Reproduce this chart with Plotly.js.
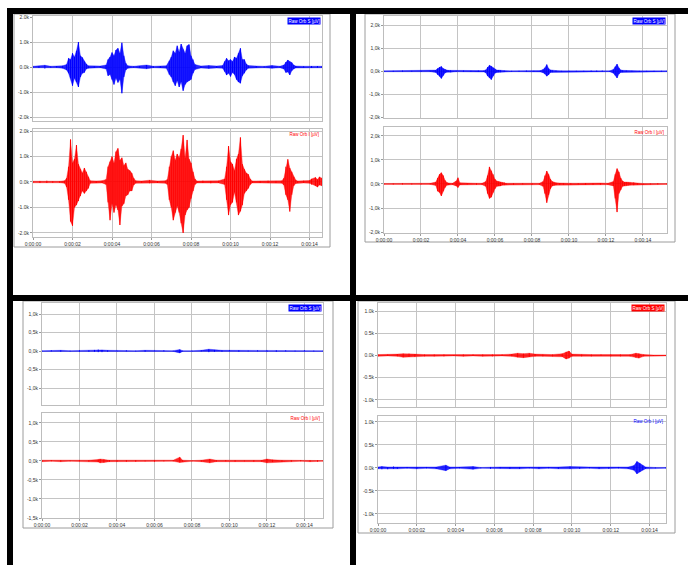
<!DOCTYPE html>
<html><head><meta charset="utf-8">
<script src="https://cdn.plot.ly/plotly-3.0.1.min.js"></script>
<style>html,body{margin:0;padding:0;background:#fff;}#c{width:688px;height:565px;}</style>
</head><body><div id="c"></div>
<script>
// ---- tick labels ----
const xTickVals = [0, 2, 4, 6, 8, 10, 12, 14];
const xTickText = ['0:00:00', '0:00:02', '0:00:04', '0:00:06', '0:00:08', '0:00:10', '0:00:12', '0:00:14'];
const yTickVals2k = [-2, -1, 0, 1, 2];
const yTickTextDot2k = ['-2.0k', '-1.0k', '0.0k', '1.0k', '2.0k'];
const yTickTextCom2k = ['-2,0k', '-1,0k', '0,0k', '1,0k', '2,0k'];
const yTickVals1k = [-1.5, -1, -0.5, 0, 0.5, 1];
const yTickTextCom1k = ['-1,5k', '-1,0k', '-0,5k', '0,0k', '0,5k', '1,0k'];
const yTickTextDot1k = ['-1.5k', '-1.0k', '-0.5k', '0.0k', '0.5k', '1.0k'];
const labelS = 'Raw Orb S [µV]';
const labelI = 'Raw Orb I [µV]';

// ---- series: time (s), upper and lower envelope (k µV) ----
// top-left, Raw Orb S (blue)
const tlS_t  = [0,0.3,0.6,0.9,1.2,1.5,1.7,1.8,1.9,2.0,2.1,2.2,2.3,2.4,2.5,2.6,2.7,2.8,3.1,3.4,3.7,3.8,3.9,4.0,4.1,4.2,4.3,4.4,4.5,4.6,4.7,4.8,5.1,5.4,5.75,6.1,6.45,6.75,6.9,7.0,7.1,7.2,7.3,7.4,7.5,7.6,7.7,7.8,7.9,8.0,8.1,8.2,8.5,8.9,9.3,9.6,9.7,9.8,9.9,10.0,10.1,10.2,10.3,10.4,10.5,10.6,10.7,10.8,10.9,11.3,11.7,12.1,12.5,12.7,12.8,12.9,13.0,13.1,13.2,13.3,13.7,14.1,14.4,14.63];
const tlS_hi = [0.03,0.04,0.07,0.03,0.04,0.05,0.10,0.35,0.30,0.55,0.40,0.65,1.00,0.45,0.38,0.22,0.12,0.05,0.03,0.04,0.08,0.30,0.40,0.58,0.45,0.68,0.75,0.55,0.97,0.45,0.15,0.05,0.03,0.04,0.08,0.03,0.04,0.05,0.25,0.40,0.65,0.55,0.85,0.60,0.92,0.70,0.55,0.85,0.90,0.45,0.30,0.10,0.04,0.06,0.04,0.06,0.22,0.35,0.25,0.30,0.22,0.40,0.35,0.55,0.75,0.30,0.30,0.12,0.06,0.04,0.03,0.06,0.03,0.08,0.20,0.28,0.22,0.18,0.08,0.04,0.03,0.04,0.04,0.03];
const tlS_lo = [-0.03,-0.04,-0.06,-0.03,-0.03,-0.05,-0.12,-0.25,-0.45,-0.75,-0.45,-0.60,-0.80,-0.40,-0.25,-0.22,-0.08,-0.05,-0.03,-0.03,-0.08,-0.35,-0.30,-0.50,-0.70,-0.45,-0.62,-0.50,-1.05,-0.40,-0.12,-0.05,-0.03,-0.04,-0.07,-0.03,-0.04,-0.05,-0.30,-0.40,-0.60,-0.75,-0.55,-0.80,-0.60,-0.95,-0.70,-0.60,-0.55,-0.50,-0.25,-0.10,-0.04,-0.06,-0.04,-0.05,-0.18,-0.32,-0.25,-0.38,-0.22,-0.30,-0.50,-0.60,-0.65,-0.35,-0.25,-0.12,-0.05,-0.03,-0.03,-0.05,-0.03,-0.08,-0.22,-0.20,-0.32,-0.15,-0.08,-0.04,-0.03,-0.04,-0.03,-0.03];

// top-left, Raw Orb I (red)
const tlI_t  = [0,0.35,0.7,1.0,1.35,1.6,1.7,1.8,1.9,2.0,2.1,2.2,2.3,2.4,2.5,2.6,2.7,2.8,2.9,3.2,3.5,3.7,3.8,3.9,4.0,4.1,4.2,4.3,4.4,4.5,4.6,4.7,4.8,4.9,5.0,5.1,5.2,5.5,5.9,6.3,6.7,6.8,6.9,7.0,7.1,7.2,7.3,7.4,7.5,7.6,7.7,7.8,7.9,8.0,8.1,8.2,8.3,8.6,9.0,9.4,9.7,9.8,9.9,10.0,10.1,10.2,10.3,10.4,10.5,10.6,10.7,10.8,10.9,11.0,11.1,11.5,11.9,12.3,12.6,12.7,12.8,12.9,13.0,13.1,13.2,13.3,13.4,13.7,14.0,14.1,14.3,14.4,14.5,14.63];
const tlI_hi = [0.03,0.04,0.05,0.03,0.03,0.05,0.15,0.60,1.67,0.75,0.90,1.45,0.70,0.50,0.35,0.55,0.40,0.20,0.05,0.04,0.05,0.10,0.60,0.80,1.00,0.75,1.19,1.32,0.85,0.95,0.65,0.75,0.50,0.45,0.35,0.15,0.05,0.04,0.07,0.04,0.05,0.10,0.60,1.00,1.23,0.85,1.10,0.95,1.30,1.84,0.95,1.65,0.90,0.75,0.40,0.12,0.04,0.05,0.04,0.05,0.12,0.60,1.41,0.80,0.70,0.45,0.90,1.10,1.75,0.70,0.50,0.35,0.30,0.12,0.04,0.04,0.05,0.04,0.05,0.15,0.60,0.89,0.55,0.40,0.20,0.08,0.04,0.05,0.06,0.12,0.18,0.10,0.20,0.15];
const tlI_lo = [-0.03,-0.04,-0.04,-0.03,-0.03,-0.05,-0.20,-0.70,-1.55,-1.72,-1.00,-0.90,-0.75,-0.55,-0.35,-0.45,-0.35,-0.25,-0.05,-0.04,-0.04,-0.10,-0.80,-1.50,-0.85,-1.20,-0.90,-1.10,-1.69,-0.95,-0.85,-0.55,-0.50,-0.35,-0.35,-0.12,-0.05,-0.03,-0.05,-0.04,-0.05,-0.10,-0.70,-1.00,-1.50,-1.20,-0.95,-1.20,-1.62,-2.00,-1.30,-1.10,-1.00,-0.65,-0.35,-0.10,-0.04,-0.04,-0.05,-0.04,-0.10,-0.70,-1.30,-0.90,-0.80,-0.40,-0.80,-1.30,-1.15,-0.90,-0.45,-0.35,-0.25,-0.10,-0.04,-0.04,-0.04,-0.04,-0.05,-0.12,-0.50,-0.70,-1.16,-0.50,-0.15,-0.06,-0.04,-0.04,-0.05,-0.10,-0.15,-0.20,-0.12,-0.15];

// top-right, Raw Orb S (blue)
const trS_t  = [0,0.5,1.0,1.5,2.0,2.5,2.8,2.9,3.0,3.1,3.2,3.3,3.4,3.5,3.6,3.9,4.3,4.7,5.1,5.4,5.5,5.6,5.7,5.8,5.9,6.0,6.1,6.2,6.3,6.5,6.9,7.3,7.7,8.1,8.45,8.6,8.7,8.8,8.9,9.0,9.1,9.3,9.6,10.0,10.4,10.8,11.2,11.5,11.8,12.2,12.4,12.5,12.6,12.7,12.8,12.9,13.1,13.4,13.8,14.2,14.6,15.0,15.3];
const trS_hi = [0.02,0.02,0.03,0.02,0.02,0.02,0.05,0.12,0.18,0.21,0.12,0.08,0.05,0.04,0.04,0.02,0.03,0.02,0.03,0.03,0.06,0.18,0.26,0.22,0.15,0.08,0.05,0.05,0.04,0.03,0.02,0.02,0.03,0.02,0.03,0.08,0.15,0.29,0.12,0.06,0.04,0.03,0.02,0.02,0.02,0.02,0.03,0.03,0.03,0.02,0.08,0.20,0.31,0.15,0.06,0.04,0.03,0.02,0.02,0.02,0.02,0.02,0.02];
const trS_lo = [-0.02,-0.02,-0.02,-0.02,-0.03,-0.02,-0.05,-0.15,-0.22,-0.31,-0.18,-0.07,-0.04,-0.03,-0.04,-0.02,-0.02,-0.02,-0.03,-0.03,-0.06,-0.20,-0.28,-0.36,-0.20,-0.08,-0.05,-0.04,-0.04,-0.03,-0.02,-0.02,-0.02,-0.02,-0.03,-0.06,-0.12,-0.21,-0.15,-0.05,-0.04,-0.03,-0.02,-0.02,-0.02,-0.02,-0.02,-0.03,-0.02,-0.02,-0.08,-0.18,-0.29,-0.12,-0.05,-0.04,-0.03,-0.02,-0.02,-0.02,-0.02,-0.02,-0.02];

// top-right, Raw Orb I (red)
const trI_t  = [0,0.5,1.0,1.5,2.0,2.5,2.8,2.9,3.0,3.1,3.2,3.3,3.4,3.5,3.7,3.9,4.0,4.1,4.5,5.0,5.3,5.5,5.6,5.7,5.8,5.9,6.0,6.1,6.2,6.3,6.4,6.5,6.6,7.0,7.5,8.0,8.4,8.6,8.7,8.8,8.9,9.0,9.1,9.2,9.3,9.5,9.7,10.1,10.5,10.9,11.3,11.7,12.1,12.4,12.5,12.6,12.7,12.8,12.9,13.0,13.1,13.2,13.3,13.5,13.7,14.0,14.4,14.8,15.3];
const trI_hi = [0.02,0.02,0.03,0.02,0.02,0.03,0.08,0.25,0.40,0.47,0.35,0.15,0.06,0.04,0.03,0.12,0.26,0.05,0.03,0.03,0.03,0.10,0.35,0.71,0.55,0.40,0.20,0.12,0.10,0.08,0.06,0.06,0.03,0.03,0.03,0.03,0.03,0.10,0.35,0.54,0.40,0.20,0.10,0.06,0.05,0.04,0.03,0.03,0.03,0.04,0.03,0.04,0.03,0.10,0.40,0.64,0.50,0.25,0.12,0.08,0.08,0.07,0.06,0.06,0.03,0.02,0.02,0.03,0.02];
const trI_lo = [-0.02,-0.02,-0.02,-0.02,-0.02,-0.02,-0.06,-0.30,-0.35,-0.50,-0.30,-0.15,-0.05,-0.04,-0.03,-0.08,-0.15,-0.04,-0.02,-0.03,-0.03,-0.10,-0.40,-0.60,-0.55,-0.35,-0.20,-0.10,-0.08,-0.08,-0.05,-0.05,-0.03,-0.03,-0.02,-0.03,-0.03,-0.10,-0.40,-0.78,-0.45,-0.20,-0.08,-0.06,-0.05,-0.04,-0.03,-0.03,-0.02,-0.03,-0.03,-0.03,-0.03,-0.08,-0.60,-1.17,-0.40,-0.25,-0.10,-0.08,-0.07,-0.06,-0.05,-0.05,-0.03,-0.02,-0.02,-0.02,-0.02];

// bottom-left, Raw Orb S (blue)
const blS_t  = [0,0.5,1.0,1.5,2.0,2.5,2.8,3.0,3.2,3.5,4.0,4.5,5.0,5.5,6.0,6.5,7.0,7.35,7.5,8.0,8.5,8.9,9.2,9.6,10.0,10.5,11.0,11.5,12.0,12.5,13.0,13.5,14.0,14.5,15.0];
const blS_hi = [0.01,0.02,0.02,0.01,0.02,0.02,0.03,0.04,0.03,0.02,0.01,0.02,0.01,0.02,0.01,0.02,0.01,0.04,0.01,0.01,0.02,0.05,0.03,0.02,0.02,0.02,0.01,0.02,0.02,0.02,0.02,0.01,0.02,0.01,0.01];
const blS_lo = [-0.01,-0.01,-0.02,-0.01,-0.02,-0.02,-0.02,-0.03,-0.03,-0.02,-0.01,-0.01,-0.01,-0.02,-0.01,-0.01,-0.01,-0.05,-0.01,-0.01,-0.01,-0.03,-0.02,-0.02,-0.01,-0.02,-0.01,-0.01,-0.02,-0.02,-0.01,-0.01,-0.01,-0.01,-0.01];

// bottom-left, Raw Orb I (red)
const blI_t  = [0,0.5,1.0,1.5,2.0,2.5,3.0,3.1,3.3,3.6,4.0,4.5,5.0,5.5,6.0,6.5,7.0,7.35,7.5,8.0,8.5,8.95,9.3,9.8,10.3,10.8,11.3,11.7,12.0,12.3,12.8,13.3,13.8,14.3,14.7,15.0];
const blI_hi = [0.02,0.02,0.02,0.01,0.02,0.02,0.04,0.05,0.04,0.02,0.02,0.02,0.02,0.01,0.02,0.01,0.02,0.10,0.02,0.01,0.02,0.05,0.02,0.02,0.02,0.01,0.02,0.02,0.05,0.03,0.02,0.02,0.02,0.02,0.02,0.01];
const blI_lo = [-0.02,-0.01,-0.02,-0.01,-0.01,-0.02,-0.03,-0.05,-0.04,-0.02,-0.02,-0.02,-0.02,-0.01,-0.02,-0.01,-0.01,-0.04,-0.02,-0.01,-0.02,-0.05,-0.02,-0.01,-0.02,-0.01,-0.02,-0.02,-0.05,-0.03,-0.02,-0.02,-0.01,-0.02,-0.02,-0.01];

// bottom-right, Raw Orb S (red)
const brS_t  = [0,0.5,1.0,1.3,1.6,1.9,2.4,2.9,3.4,3.9,4.4,4.9,5.4,5.9,6.4,6.9,7.2,7.5,7.8,8.1,8.5,9.0,9.5,9.7,9.85,10.0,10.5,11.0,11.5,12.0,12.5,13.0,13.3,13.45,13.7,14.2,14.85];
const brS_hi = [0.02,0.02,0.03,0.04,0.04,0.03,0.02,0.02,0.02,0.01,0.02,0.02,0.02,0.02,0.02,0.03,0.05,0.04,0.05,0.03,0.02,0.02,0.04,0.08,0.10,0.03,0.02,0.02,0.02,0.02,0.02,0.02,0.05,0.04,0.02,0.01,0.01];
const brS_lo = [-0.02,-0.01,-0.02,-0.04,-0.03,-0.03,-0.02,-0.02,-0.02,-0.01,-0.02,-0.01,-0.02,-0.02,-0.01,-0.02,-0.04,-0.05,-0.03,-0.02,-0.02,-0.02,-0.03,-0.08,-0.06,-0.02,-0.02,-0.02,-0.01,-0.02,-0.02,-0.02,-0.05,-0.06,-0.02,-0.01,-0.01];

// bottom-right, Raw Orb I (blue)
const brI_t  = [0,0.2,0.5,0.8,1.0,1.5,2.0,2.5,3.0,3.5,3.7,4.2,4.9,5.3,5.8,6.3,6.8,7.3,7.8,8.3,8.8,9.3,9.9,10.4,10.9,11.4,11.9,12.4,12.9,13.2,13.35,13.5,13.65,13.8,14.3,14.85];
const brI_hi = [0.02,0.03,0.02,0.03,0.02,0.02,0.02,0.02,0.02,0.06,0.02,0.02,0.03,0.01,0.02,0.02,0.02,0.02,0.01,0.02,0.02,0.02,0.03,0.02,0.02,0.02,0.02,0.02,0.02,0.05,0.14,0.10,0.05,0.02,0.01,0.01];
const brI_lo = [-0.02,-0.03,-0.03,-0.02,-0.02,-0.01,-0.02,-0.01,-0.02,-0.06,-0.02,-0.01,-0.03,-0.01,-0.02,-0.01,-0.02,-0.02,-0.01,-0.02,-0.01,-0.02,-0.02,-0.02,-0.01,-0.02,-0.02,-0.01,-0.02,-0.05,-0.13,-0.09,-0.05,-0.02,-0.01,-0.01];

// ---- layout config (pixel boxes) ----
const W = 688, H = 565;
const BLUE = '#0000ff', RED = '#ff0000';
const subplots = [
  {t: tlS_t, hi: tlS_hi, lo: tlS_lo, color: BLUE, box: [33, 322, 16, 121], xr: [0, 14.63], yr: [-2.16, 2.04], yv: yTickVals2k, yt: yTickTextDot2k, xlab: false, label: labelS, boxed: true},
  {t: tlI_t, hi: tlI_hi, lo: tlI_lo, color: RED,  box: [33, 322, 129, 237], xr: [0, 14.63], yr: [-2.16, 2.08], yv: yTickVals2k, yt: yTickTextDot2k, xlab: true, label: labelI, boxed: false},
  {t: trS_t, hi: trS_hi, lo: trS_lo, color: BLUE, box: [384, 667, 16, 118], xr: [0, 15.3], yr: [-2.02, 2.39], yv: yTickVals2k, yt: yTickTextCom2k, xlab: false, label: labelS, boxed: true},
  {t: trI_t, hi: trI_hi, lo: trI_lo, color: RED,  box: [384, 667, 127, 233], xr: [0, 15.3], yr: [-2.04, 2.37], yv: yTickVals2k, yt: yTickTextCom2k, xlab: true, label: labelI, boxed: false},
  {t: blS_t, hi: blS_hi, lo: blS_lo, color: BLUE, box: [42, 323, 303, 405], xr: [0, 14.99], yr: [-1.46, 1.30], yv: yTickVals1k, yt: yTickTextCom1k, xlab: false, label: labelS, boxed: true},
  {t: blI_t, hi: blI_hi, lo: blI_lo, color: RED,  box: [42, 323, 413, 518], xr: [0, 14.99], yr: [-1.5, 1.26], yv: yTickVals1k, yt: yTickTextCom1k, xlab: true, label: labelI, boxed: false},
  {t: brS_t, hi: brS_hi, lo: brS_lo, color: RED,  box: [378, 666, 303, 407], xr: [0, 14.85], yr: [-1.16, 1.18], yv: yTickVals1k, yt: yTickTextDot1k, xlab: false, label: labelS, boxed: true},
  {t: brI_t, hi: brI_hi, lo: brI_lo, color: BLUE, box: [378, 666, 416, 523], xr: [0, 14.85], yr: [-1.2, 1.13], yv: yTickVals1k, yt: yTickTextDot1k, xlab: true, label: labelI, boxed: false}
];

const frames = [[14, 330, 14, 247], [365, 675, 14, 242], [23, 333, 301, 528], [358, 675, 301, 533]];
const blackBars = [[7, 688, 8, 14], [7, 13, 8, 565], [350, 356, 8, 565], [7, 688, 295, 301]];

const traces = [];
const layout = {
  width: W, height: H, margin: {l: 0, r: 0, t: 0, b: 0},
  paper_bgcolor: '#ffffff', plot_bgcolor: '#ffffff', showlegend: false,
  font: {family: 'Liberation Sans, Arial, sans-serif', size: 5, color: '#333333'},
  shapes: [], annotations: []
};

function rgba(hex, a) {
  const r = parseInt(hex.slice(1, 3), 16), g = parseInt(hex.slice(3, 5), 16), b = parseInt(hex.slice(5, 7), 16);
  return 'rgba(' + r + ',' + g + ',' + b + ',' + a + ')';
}

subplots.forEach((s, i) => {
  const n = i + 1, xa = 'x' + (n === 1 ? '' : n), ya = 'y' + (n === 1 ? '' : n);
  const [x0, x1, y0, y1] = s.box;
  // envelope polygon (dense signal body)
  traces.push({
    type: 'scatter', mode: 'lines', xaxis: xa, yaxis: ya, hoverinfo: 'skip',
    x: s.t.concat(s.t.slice().reverse()), y: s.hi.concat(s.lo.slice().reverse()),
    fill: 'toself', fillcolor: rgba(s.color, 0.85), line: {width: 0.6, color: rgba(s.color, 0.55)}
  });
  // extreme excursions: separate vertical strokes at each sample
  const xs = [], ys = [];
  s.t.forEach((tv, k) => { xs.push(tv, tv, null); ys.push(s.hi[k], s.lo[k], null); });
  traces.push({type: 'scatter', mode: 'lines', xaxis: xa, yaxis: ya, hoverinfo: 'skip',
    x: xs, y: ys, connectgaps: false, line: {width: 1, color: s.color}});

  const axBase = {showline: true, linecolor: '#bdbdbd', linewidth: 1, mirror: true,
    showgrid: true, gridcolor: '#c4c4c4', gridwidth: 1, zeroline: false, fixedrange: true};
  layout['xaxis' + (n === 1 ? '' : n)] = Object.assign({}, axBase, {
    anchor: ya, domain: [x0 / W, x1 / W], range: s.xr,
    tickmode: 'array', tickvals: xTickVals, ticktext: xTickText,
    showticklabels: s.xlab, ticks: s.xlab ? 'outside' : '', ticklen: 2, tickcolor: '#9a9a9a',
    tickfont: {size: 5, color: '#333'}
  });
  layout['yaxis' + (n === 1 ? '' : n)] = Object.assign({}, axBase, {
    anchor: xa, domain: [1 - y1 / H, 1 - y0 / H], range: s.yr,
    tickmode: 'array', tickvals: s.yv, ticktext: s.yt,
    ticks: 'outside', ticklen: 2, tickcolor: '#9a9a9a',
    tickfont: {size: 5, color: '#333'}
  });
  layout.annotations.push({
    xref: 'paper', yref: 'paper', x: (x1 - 1) / W, y: 1 - (y0 + 1) / H,
    xanchor: 'right', yanchor: 'top', showarrow: false, text: s.label,
    font: {size: 4.5, color: s.boxed ? '#ffffff' : s.color},
    bgcolor: s.boxed ? s.color : 'rgba(0,0,0,0)', borderpad: 0.5
  });
});

frames.forEach(f => layout.shapes.push({type: 'rect', xref: 'paper', yref: 'paper',
  x0: f[0] / W, x1: f[1] / W, y0: 1 - f[3] / H, y1: 1 - f[2] / H,
  line: {color: '#9c9c9c', width: 1}, fillcolor: 'rgba(0,0,0,0)', layer: 'below'}));
blackBars.forEach(b => layout.shapes.push({type: 'rect', xref: 'paper', yref: 'paper',
  x0: b[0] / W, x1: b[1] / W, y0: 1 - b[3] / H, y1: 1 - b[2] / H,
  line: {width: 0}, fillcolor: '#000000', layer: 'above'}));

Plotly.newPlot('c', traces, layout, {staticPlot: true, displayModeBar: false});
</script>
</body></html>
